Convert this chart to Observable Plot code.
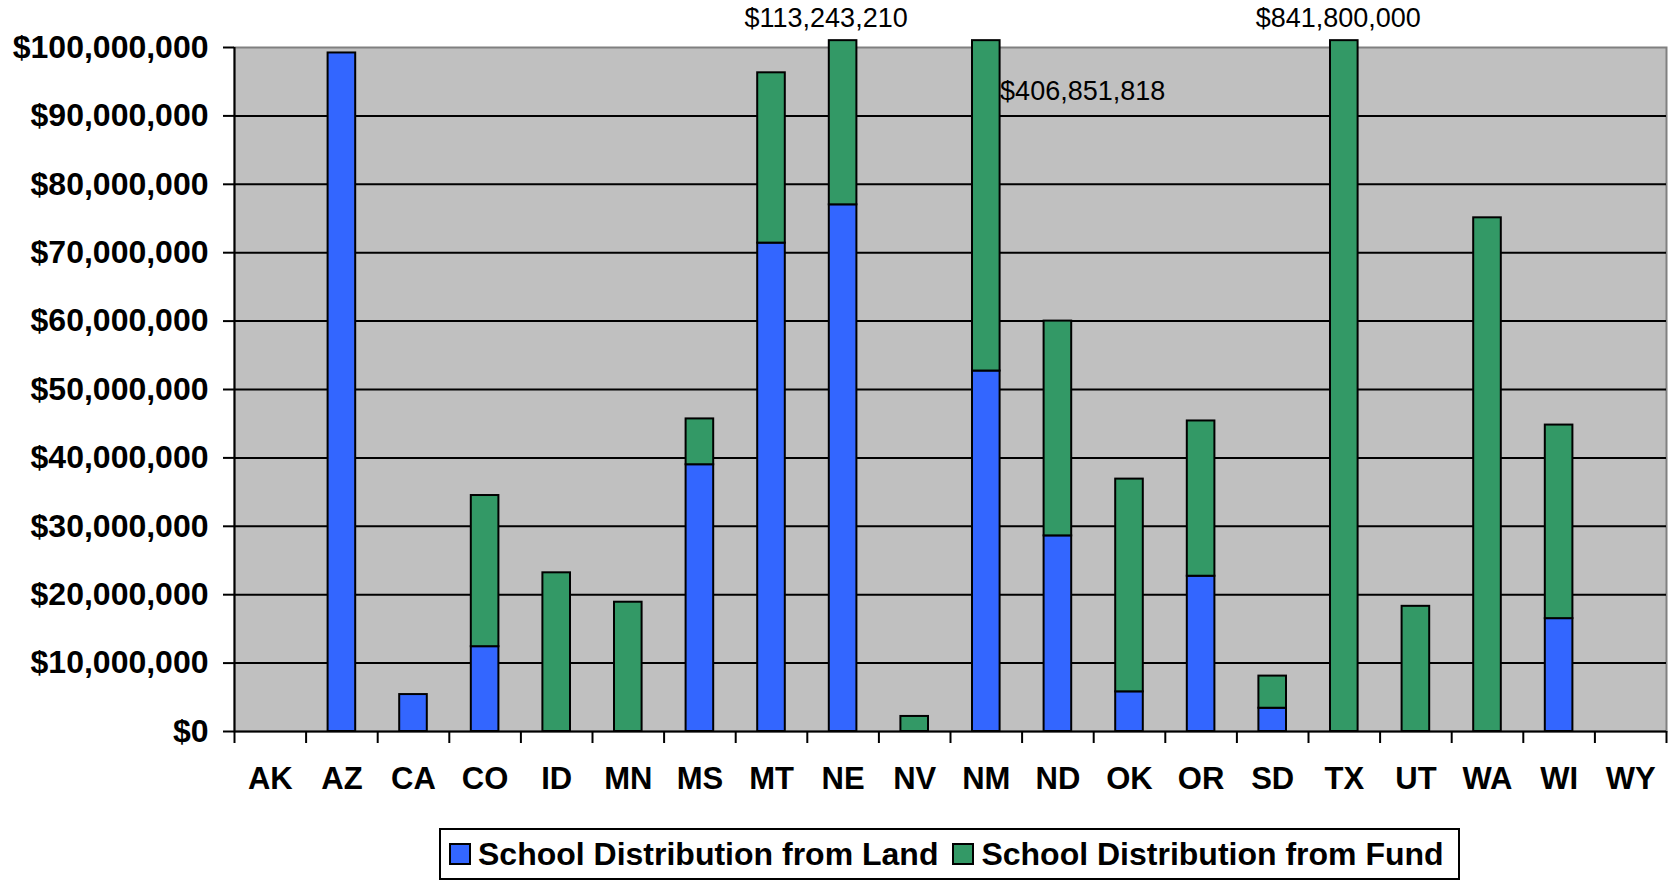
<!DOCTYPE html>
<html><head><meta charset="utf-8">
<script src="https://cdn.jsdelivr.net/npm/d3@7"></script>
<script src="https://cdn.jsdelivr.net/npm/@observablehq/plot@0.6"></script>
<style>
body{margin:0;background:#fff;font-family:"Liberation Sans",Arial,sans-serif;}
#wrap{position:relative;width:1671px;height:882px;}
#chart svg{display:block;}
#legend{position:absolute;left:439px;top:828px;width:1021px;height:52px;box-sizing:border-box;border:2px solid #000;display:flex;align-items:center;padding-left:8px;font-weight:bold;font-size:32px;white-space:nowrap;color:#000;}
.item{display:flex;align-items:center;margin-right:14px;}
.sw{width:22px;height:22px;box-sizing:border-box;border:2px solid #000;margin-right:7px;flex:none;}
</style></head><body>
<div id="wrap"><div id="chart"></div><div id="legend"></div></div>
<script>
// ---- data ----
const states = ["AK","AZ","CA","CO","ID","MN","MS","MT","NE","NV","NM","ND","OK","OR","SD","TX","UT","WA","WI","WY"];
const landValues = [0, 99.2e6, 5.4e6, 12.4e6, 0, 0, 39.0e6, 71.4e6, 77.0e6, 0, 52.7e6, 28.6e6, 5.8e6, 22.7e6, 3.4e6, 0, 0, 0, 16.5e6, 0];
const fundValues = [0, 0, 0, 22.1e6, 23.2e6, 18.9e6, 6.7e6, 24.9e6, 36243210, 2.2e6, 354151818, 31.4e6, 31.1e6, 22.7e6, 4.7e6, 841800000, 18.3e6, 75.1e6, 28.3e6, 0];
const yTicks = [0,10e6,20e6,30e6,40e6,50e6,60e6,70e6,80e6,90e6,100e6];
const seriesNames = ["School Distribution from Land","School Distribution from Fund"];
const seriesColors = ["#3366FF","#339966"];

// ---- layout ----
const W = 1671, H = 826, ML = 234, MR = 5, MT = 47, MB = 95;
const bw = (W - ML - MR) / states.length;
const yCap = 101e6;

const landRows = states.map((s,i)=>({state:s, y1:0, y2:Math.min(landValues[i], yCap)})).filter(d=>d.y2>d.y1);
const fundRows = states.map((s,i)=>({state:s, y1:Math.min(landValues[i], yCap), y2:Math.min(landValues[i]+fundValues[i], yCap)})).filter(d=>d.y2>d.y1);
const fmt = d3.format("$,");
const labelRow = s => { const i = states.indexOf(s); return [{state:s, y:100e6, text:fmt(landValues[i]+fundValues[i])}]; };

const txt = {fontSize:27, fill:"#000", lineAnchor:"middle"};
const chart = Plot.plot({
  width: W, height: H,
  marginTop: MT, marginBottom: MB, marginLeft: ML, marginRight: MR,
  style: {fontFamily:"'Liberation Sans', Arial, sans-serif", color:"#000", background:"#fff", overflow:"visible"},
  x: {type:"band", domain: states, padding: 0, round: false, axis: null},
  y: {domain:[0,100e6], axis: null},
  marks: [
    Plot.frame({fill:"#C0C0C0", stroke:"#808080", strokeWidth:2}),
    Plot.ruleY(yTicks.filter(t=>t>0 && t<100e6), {stroke:"#000", strokeWidth:2}),
    Plot.barY(landRows, {x:"state", y1:"y1", y2:"y2", fill:seriesColors[0], stroke:"#000", strokeWidth:2, insetLeft:22, insetRight:22}),
    Plot.barY(fundRows, {x:"state", y1:"y1", y2:"y2", fill:seriesColors[1], stroke:"#000", strokeWidth:2, insetLeft:22, insetRight:22}),
    Plot.ruleY([0], {stroke:"#000", strokeWidth:2}),
    Plot.ruleX([states[0]], {dx:-bw/2, stroke:"#000", strokeWidth:2}),
    Plot.axisX({tickSize:12, tickFormat:()=>"", label:null, dx:-bw/2, stroke:"#000", strokeWidth:2}),
    Plot.axisX({ticks:[states[states.length-1]], tickSize:12, tickFormat:()=>"", label:null, dx:bw/2, stroke:"#000", strokeWidth:2}),
    Plot.axisX({tickSize:0, tickPadding:35, label:null, fontSize:31, fontWeight:"bold", fill:"#000"}),
    Plot.axisY({ticks:yTicks, tickSize:11, tickPadding:15, tickFormat:fmt, label:null, fontSize:32, fontWeight:"bold", fill:"#000", stroke:"#000", strokeWidth:2}),
    Plot.text(labelRow("NE"), {x:"state", y:"y", text:"text", dx:-17, dy:-28.9, ...txt}),
    Plot.text(labelRow("NM"), {x:"state", y:"y", text:"text", dx:bw/2-22, dy:43.4, textAnchor:"start", ...txt}),
    Plot.text(labelRow("TX"), {x:"state", y:"y", text:"text", dx:-6, dy:-28.9, ...txt})
  ]
});
document.getElementById("chart").appendChild(chart);

const legend = document.getElementById("legend");
seriesNames.forEach((n,i)=>{
  const item = document.createElement("div"); item.className="item";
  const sw = document.createElement("div"); sw.className="sw"; sw.style.background = seriesColors[i];
  const t = document.createElement("span"); t.textContent = n;
  item.appendChild(sw); item.appendChild(t); legend.appendChild(item);
});
</script>
</body></html>
